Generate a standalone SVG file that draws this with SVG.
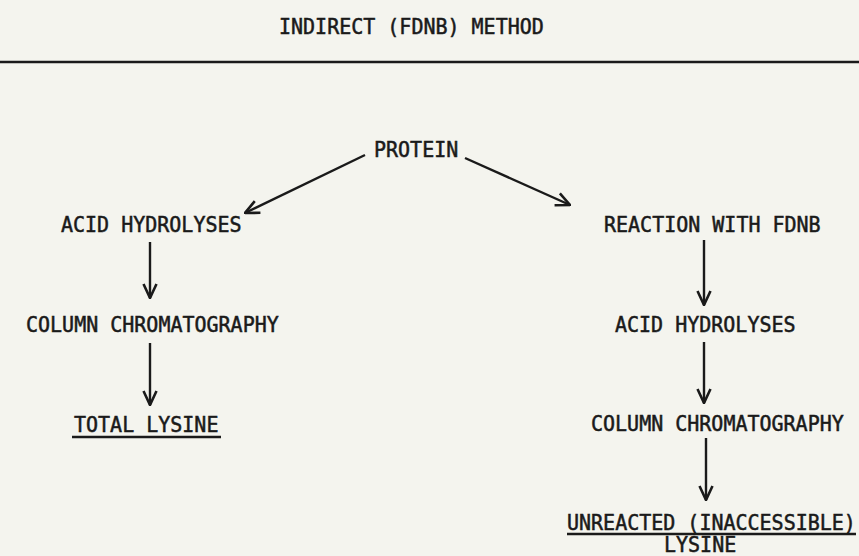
<svg xmlns="http://www.w3.org/2000/svg" width="859" height="556" viewBox="0 0 859 556">
<style>
  text { font-family: "DejaVu Sans Mono", "Liberation Mono", monospace; font-size: 20px; fill: #1a1a1a; stroke: #1a1a1a; stroke-width: 0.5px; }
  .ln { stroke: #1a1a1a; stroke-width: 2.4; fill: none; }
  .arr { stroke: #1a1a1a; stroke-width: 2.4; fill: none; marker-end: url(#ah); }
</style>
<defs>
  <marker id="ah" viewBox="0 0 16 16" refX="15" refY="8" markerWidth="16" markerHeight="16" markerUnits="userSpaceOnUse" orient="auto">
    <path d="M1,1.5 L15,8 L1,14.5" fill="none" stroke="#1a1a1a" stroke-width="2.6" stroke-linejoin="miter"/>
  </marker>
</defs>
<rect x="0" y="0" width="859" height="556" fill="#f4f4ee"/>
<g id="title">
  <text transform="translate(279 34) scale(1 1.1)">INDIRECT (FDNB) METHOD</text>
  <line class="ln" x1="0" y1="62" x2="859" y2="62"/>
</g>
<g id="protein"><text transform="translate(374 157) scale(1 1.1)">PROTEIN</text></g>
<g id="acid-left"><text transform="translate(61 232) scale(1 1.1)">ACID HYDROLYSES</text></g>
<g id="column-left"><text transform="translate(26 332) scale(1 1.1)">COLUMN CHROMATOGRAPHY</text></g>
<g id="total-lysine">
  <text transform="translate(74 432) scale(1 1.1)">TOTAL LYSINE</text>
  <line class="ln" x1="72" y1="437" x2="221" y2="437" stroke-width="2"/>
</g>
<g id="reaction"><text transform="translate(604 232) scale(1 1.1)">REACTION WITH FDNB</text></g>
<g id="acid-right"><text transform="translate(615 332) scale(1 1.1)">ACID HYDROLYSES</text></g>
<g id="column-right"><text transform="translate(591 431) scale(1 1.1)">COLUMN CHROMATOGRAPHY</text></g>
<g id="unreacted">
  <text transform="translate(567 530) scale(1 1.1)">UNREACTED (INACCESSIBLE)</text>
  <line class="ln" x1="567" y1="534" x2="856" y2="534" stroke-width="2"/>
  <text transform="translate(664 552) scale(1 1.05)">LYSINE</text>
</g>
<g id="connectors">
  <line class="arr" x1="365" y1="155" x2="245" y2="213"/>
  <line class="arr" x1="465" y1="158" x2="570" y2="205"/>
  <line class="arr" x1="150" y1="242" x2="150" y2="298"/>
  <line class="arr" x1="150" y1="343" x2="150" y2="405"/>
  <line class="arr" x1="704" y1="240" x2="704" y2="305"/>
  <line class="arr" x1="704" y1="342" x2="704" y2="403"/>
  <line class="arr" x1="706" y1="438" x2="706" y2="500"/>
</g>
</svg>
